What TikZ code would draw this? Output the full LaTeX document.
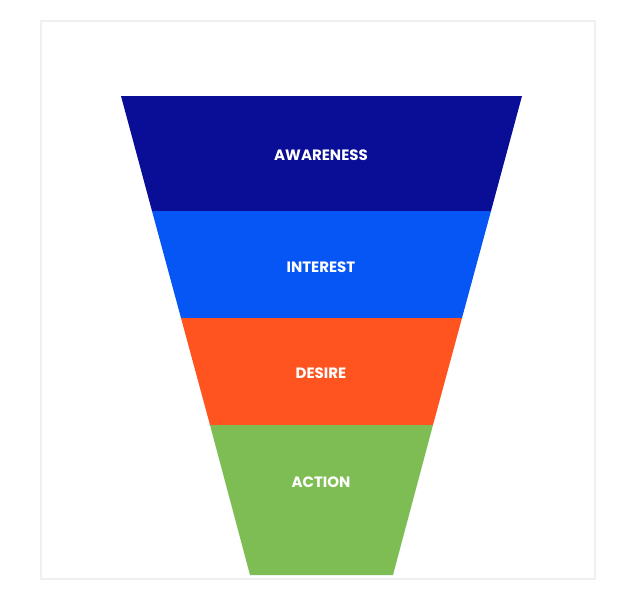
\documentclass[tikz,border=0pt]{standalone}
\usepackage{fontspec}
\setmainfont{Poppins}
\begin{document}
\begin{tikzpicture}[x=1pt,y=-1pt,
  lbl/.style={text=white,font=\bfseries\fontsize{15}{18}\selectfont}]
\useasboundingbox (0,0) rectangle (625,600);
\fill[white] (0,0) rectangle (625,600);
\draw[black!6,line width=1.5pt] (41,21) rectangle (595,579);
\definecolor{cA}{HTML}{0A0E96}
\definecolor{cI}{HTML}{0655F5}
\definecolor{cD}{HTML}{FF541F}
\definecolor{cC}{HTML}{7EBD53}
\fill[cA] (121,96) -- (522,96) -- (491,211) -- (152,211) -- cycle;
\fill[cI] (152,211) -- (491,211) -- (462,318) -- (181,318) -- cycle;
\fill[cD] (181,318) -- (462,318) -- (433,425) -- (210,425) -- cycle;
\fill[cC] (210,425) -- (433,425) -- (393,575) -- (250,575) -- cycle;
\node[lbl] (a) at (321,155) {AWARENESS};
\node[lbl] (i) at (321,267) {INTEREST};
\node[lbl] (d) at (321,373) {DESIRE};
\node[lbl] (c) at (321,482) {ACTION};
\end{tikzpicture}
\end{document}
